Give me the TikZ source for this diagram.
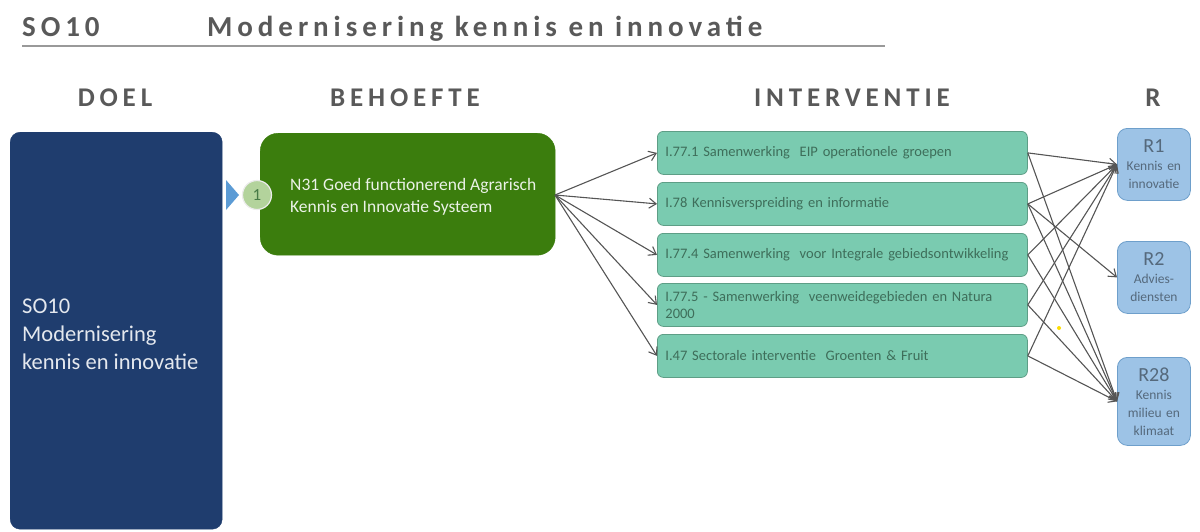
\documentclass[tikz,border=0pt]{standalone}
\usepackage{fontspec}
\setmainfont{Carlito}
\newfontfamily\spaced[LetterSpace=18]{Carlito}
\newfontfamily\tspaced[LetterSpace=17]{Carlito}
\usetikzlibrary{arrows.meta}
\newcommand\rbigfont{\fontsize{20}{22}\selectfont}
\definecolor{navy}{HTML}{1F3D6E}
\definecolor{ngreen}{HTML}{3B7D0D}
\definecolor{mint}{HTML}{7ACBB0}
\definecolor{mintline}{HTML}{5E9E86}
\definecolor{minttext}{HTML}{3E6E5A}
\definecolor{lblue}{HTML}{9DC3E6}
\definecolor{lblueline}{HTML}{6E9FCB}
\definecolor{rtext}{HTML}{55697C}
\definecolor{headgray}{HTML}{595959}
\definecolor{tri}{HTML}{5B9BD5}
\definecolor{circ}{HTML}{B3D39C}
\definecolor{conn}{HTML}{555555}
\tikzset{
  heading/.style={text=headgray, font=\spaced\bfseries\fontsize{27}{30}\selectfont, inner sep=0pt},
  doelbox/.style={fill=navy, draw=navy, rounded corners=10pt, minimum width=212pt, minimum height=397pt, anchor=north west, inner sep=0pt},
  doeltext/.style={anchor=west, align=left, inner sep=0pt, text=white!88!navy, font=\fontsize{22.5}{28}\selectfont},
  needbox/.style={fill=ngreen, draw=ngreen, rounded corners=18pt, minimum width=295pt, minimum height=122pt, anchor=north west, inner sep=0pt},
  needtext/.style={anchor=west, align=left, inner sep=0pt, text=white!90!ngreen, font=\fontsize{17.5}{22}\selectfont},
  ibox/.style={fill=mint, draw=mintline, line width=0.8pt, rounded corners=6pt, minimum width=370pt, minimum height=43pt, anchor=north west, text width=354pt, align=left, inner xsep=8pt, inner ysep=2pt, text=minttext, font=\fontsize{14.5}{17}\selectfont},
  rbox/.style={fill=lblue, draw=lblueline, line width=0.8pt, rounded corners=10pt, minimum width=73pt, anchor=north west, text width=71pt, align=center, inner xsep=1pt, inner ysep=2pt, text=rtext, font=\fontsize{13.5}{18}\selectfont},
  link/.style={draw=conn, line width=1.1pt, -{Straight Barb[length=7pt,width=10pt]}},
}
\begin{document}
\begin{tikzpicture}[x=1pt,y=-1pt]
\useasboundingbox (0,0) rectangle (1200,531);
% title
\node[anchor=base west, inner sep=0pt, text=headgray, font=\tspaced\bfseries\fontsize{29}{32}\selectfont] (t1) at (22,36) {SO10};
\node[anchor=base west, inner sep=0pt, text=headgray, font=\tspaced\bfseries\fontsize{29}{32}\selectfont] (t2) at (207,36) {Modernisering kennis en innovatie};
\draw[draw=gray!80, line width=2.5pt] (22,46) -- (885,46);
% headings
\node[heading, anchor=base] (hd) at (115,106) {DOEL};
\node[heading, anchor=base] (hb) at (405,106) {BEHOEFTE};
\node[heading, anchor=base] (hi) at (852,106) {INTERVENTIE};
\node[heading, anchor=base] (hr) at (1153,106) {R};
% doel
\node[doelbox] (doel) at (10,132) {};
\node[doeltext] (doelt) at (22,334) {SO10\\Modernisering\\kennis en innovatie};
% need
\node[needbox] (n31) at (260,133) {};
\node[needtext] (n31t) at (290,197) {N31 Goed functionerend Agrarisch\\Kennis en Innovatie Systeem};
\fill[tri] (226,180) -- (239,195) -- (226,210) -- cycle;
\node[circle, fill=circ, draw=white!85!gray, line width=1.2pt, minimum size=29pt, inner sep=0pt, text=headgray!80!green, font=\fontsize{17}{17}\selectfont] (c1) at (257,195) {1};
% interventions
\node[ibox] (i1) at (657,131) {I.77.1 Samenwerking\ \ EIP operationele groepen};
\node[ibox] (i2) at (657,182) {I.78 Kennisverspreiding en informatie};
\node[ibox] (i3) at (657,233) {I.77.4 Samenwerking\ \ voor Integrale gebiedsontwikkeling};
\node[ibox] (i4) at (657,283) {I.77.5 - Samenwerking\ \ veenweidegebieden en Natura\\2000};
\node[ibox] (i5) at (657,334) {I.47 Sectorale interventie\ \ Groenten \& Fruit};
% results
\node[rbox, minimum height=72pt] (r1) at (1117,128) {{\rbigfont R1}\\Kennis en\\innovatie};
\node[rbox, minimum height=72pt] (r2) at (1117,241) {{\rbigfont R2}\\Advies-\\diensten};
\node[rbox, minimum height=88pt] (r28) at (1117,357) {{\rbigfont R28}\\Kennis\\milieu en\\klimaat};
% links need -> interventions
\coordinate (nout) at (555,195);
\foreach \i in {i1,i2,i3,i4,i5} \draw[link] (nout) -- (\i.west);
% links interventions -> results
\foreach \i in {i1,i2,i3,i4,i5} {
  \draw[link] (\i.east) -- (r1.west);
  \draw[link] (\i.east) -- (r28.west);
}
\draw[link] (i2.east) -- (r2.west);
\fill[yellow!80!orange] (1059,328) circle (2pt);
\end{tikzpicture}
\end{document}
